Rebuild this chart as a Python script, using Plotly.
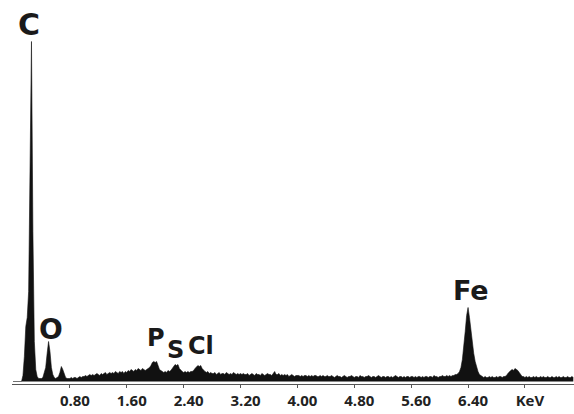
import numpy as np
import plotly.graph_objects as go

# EDS spectrum counts (arbitrary units), energy step 0.02 keV starting at 0 keV
STEP_KEV = 0.02
counts = [
    0, 0, 0, 0, 0, 0, 0, 6, 25, 55, 64, 90, 230, 340, 150, 40, 12, 5,
    3, 3, 3, 4, 8, 14, 28, 40, 30, 14, 7, 4, 3, 4,
    5, 9, 15, 12, 7, 4, 3, 3,
    3, 4, 3, 4, 4, 3, 4, 5, 4, 5, 5, 6, 5, 6, 7, 6, 7, 6, 7, 8,
    7, 6, 8, 7, 8, 9, 7, 8, 9, 8, 9, 8, 10, 9, 8, 10, 9, 10, 8, 10,
    9, 11, 10, 12, 11, 10, 12, 11, 13, 12,
    11, 13, 12, 11, 12, 13, 14, 16, 19, 20,
    19, 20, 16, 12, 11, 10, 9, 10, 9, 11,
    10, 11, 13, 16, 17, 16, 17, 13, 11, 10,
    9, 10, 9, 10, 9, 10, 10, 11, 13, 15,
    16, 15, 16, 13, 11, 10, 9, 10, 8, 9,
    8,
    8, 9, 7, 8, 9, 7, 8, 8, 7, 9, 8, 7, 8, 7, 9, 8, 7, 8, 7, 8,
    7, 8, 7, 7, 8, 6, 7, 8, 7, 6, 8, 7, 7, 6, 8, 7, 6, 7, 8, 7,
    7, 6, 8, 10, 7, 7, 8, 6, 7, 6, 7, 6, 7, 5, 6, 7, 6, 5, 6, 6,
    6, 5, 6, 5, 6, 6, 5, 6, 5, 6, 5, 6, 6, 5, 5, 6, 5, 6, 5, 5,
    6, 5, 5, 6, 5, 4, 5, 6, 5, 5, 4, 5, 6, 5, 4, 5, 5, 6, 5, 4,
    5, 5, 4, 6, 5, 5, 4, 5, 5, 6, 5, 4, 5, 5, 4, 5, 6, 5, 4, 5,
    5, 4, 5, 5, 4, 5, 4, 5, 6, 5, 4, 5, 5, 4, 5, 4, 5, 5, 4, 5,
    5, 4, 5, 4, 5, 5, 4, 5, 4, 5, 5, 4, 5, 5, 4, 6, 5, 5, 4, 5,
    5, 6, 5, 5, 6, 5, 6, 5, 6, 6, 7, 7,
    8, 10, 14, 22, 34, 50, 66, 74, 64, 50, 38, 28, 20, 14, 10, 7, 6, 5,
    4, 5, 4, 4, 5, 4, 5, 4, 4, 5, 4, 5, 5, 4,
    5, 5, 6, 8, 10, 11, 12, 11, 13, 12, 11, 9, 7, 5, 5, 4,
    5, 4, 5, 4, 4, 5, 4, 5, 4, 4, 5, 4, 5, 4, 4, 5, 4, 4, 5, 4,
    4, 5, 4, 5, 4, 4, 5, 4, 4, 5, 4, 4, 5, 4,
]
energies = np.arange(len(counts)) * STEP_KEV

tick_values = [0.8, 1.6, 2.4, 3.2, 4.0, 4.8, 5.6, 6.4, 7.2]
tick_labels = ["0.80", "1.60", "2.40", "3.20", "4.00", "4.80", "5.60", "6.40", "KeV"]

element_names = ["C", "O", "P", "S", "Cl", "Fe"]
element_x = [0.225, 0.534, 2.01, 2.29, 2.64, 6.44]
element_y = [357.5, 52.5, 43.5, 31.5, 35.5, 91.5]
element_size = [30, 28, 24, 24, 24, 27]

fig = go.Figure()
fig.add_trace(go.Scatter(
    x=energies, y=counts, mode="lines",
    line=dict(color="#111111", width=0.6),
    fill="tozeroy", fillcolor="#111111",
    hoverinfo="skip", showlegend=False,
))

for name, ex, ey, sz in zip(element_names, element_x, element_y, element_size):
    fig.add_annotation(
        x=ex, y=ey, xref="x", yref="y", text=name, showarrow=False,
        font=dict(family="DejaVu Sans", size=sz, color="#1a1a1a", weight="bold"),
        xanchor="center", yanchor="middle",
    )

fig.update_layout(
    width=574, height=414,
    margin=dict(l=12, r=0, t=0, b=30),
    paper_bgcolor="white", plot_bgcolor="white",
    showlegend=False,
)
fig.update_xaxes(
    range=[-0.014, 7.89],
    showgrid=False, zeroline=False,
    showline=True, linecolor="#555555", linewidth=1,
    ticks="outside", ticklen=3, tickcolor="#555555", tickwidth=1,
    tickvals=tick_values, ticktext=tick_labels,
    tickfont=dict(family="Open Sans", size=15, color="#222222", weight="bold"),
    ticklabelshift=5,
)
fig.update_yaxes(
    range=[-2.5, 381.5],
    showgrid=False, zeroline=False, showline=False,
    showticklabels=False, ticks="",
)

fig.write_html(
    "out.html",
    config={"displayModeBar": False, "staticPlot": True},
    post_script="document.body.style.margin='0px';document.body.style.overflow='hidden';",
)
